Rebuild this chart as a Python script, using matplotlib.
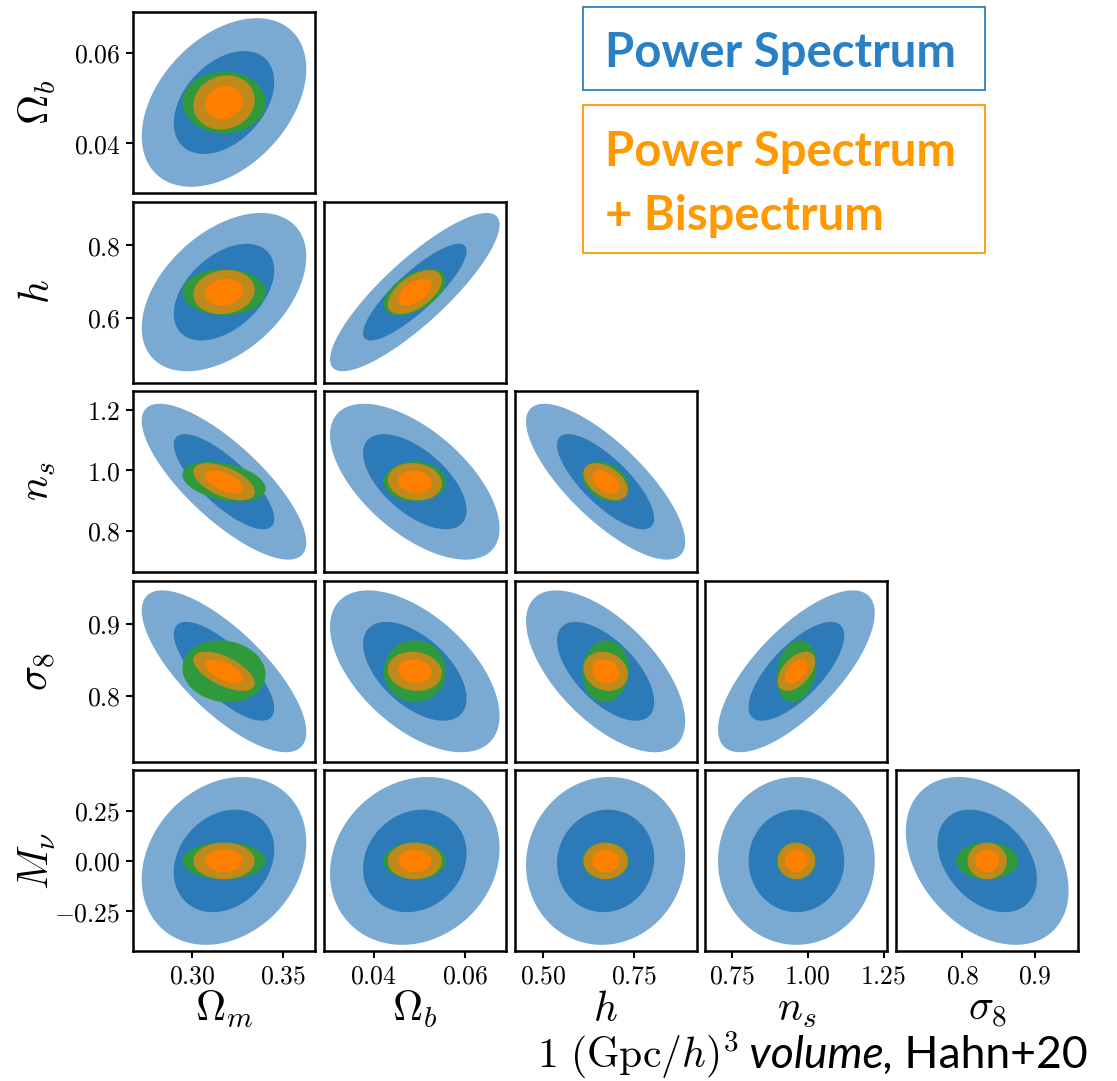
import numpy as np
import matplotlib.pyplot as plt
from matplotlib.patches import Rectangle

plt.rcParams['mathtext.fontset'] = 'cm'

# parameters of the Fisher forecast
names = [r'\Omega_m', r'\Omega_b', 'h', 'n_s', r'\sigma_8', r'M_\nu']
fiducial = [0.3175, 0.049, 0.6711, 0.9624, 0.834, 0.0]
half_range = [0.05, 0.02, 0.25, 0.30, 0.125, 0.45]

xtick_vals = [[0.30, 0.35], [0.04, 0.06], [0.50, 0.75], [0.75, 1.00, 1.25], [0.8, 0.9]]
xtick_labels = [['0.30', '0.35'], ['0.04', '0.06'], ['0.50', '0.75'],
                ['0.75', '1.00', '1.25'], ['0.8', '0.9']]
ytick_vals = [[0.04, 0.06], [0.6, 0.8], [0.8, 1.0, 1.2], [0.8, 0.9], [-0.25, 0.0, 0.25]]
ytick_labels = [['0.04', '0.06'], ['0.6', '0.8'], ['0.8', '1.0', '1.2'],
                ['0.8', '0.9'], ['-0.25', '0.00', '0.25']]

# marginal 1-sigma errors
sig_ps = [0.0182, 0.0075, 0.088, 0.104, 0.045, 0.168]
sig_green = [0.0092, 0.00275, 0.0258, 0.0265, 0.0172, 0.037]
sig_pb = [0.0068, 0.0024, 0.0245, 0.0248, 0.0109, 0.0365]

# correlation coefficients, row = y parameter (Omega_b ... M_nu), col = x parameter
rho_ps = [[0.40],
          [0.45, 0.85],
          [-0.78, -0.60, -0.77],
          [-0.75, -0.55, -0.62, 0.72],
          [0.22, 0.15, 0.05, 0.0, -0.35]]
rho_green = [[0.0],
             [0.0, 0.50],
             [-0.35, 0.0, -0.30],
             [-0.10, 0.0, 0.05, 0.20],
             [0.0, 0.0, 0.0, 0.0, 0.0]]
rho_pb = [[0.10],
          [0.10, 0.55],
          [-0.55, -0.10, -0.45],
          [-0.60, -0.10, -0.15, 0.50],
          [0.0, 0.0, 0.0, 0.0, 0.0]]

k1 = np.sqrt(2.30)
k2 = np.sqrt(6.17)
layers = [(sig_ps, rho_ps, k2, '#7aaad2'),
          (sig_ps, rho_ps, k1, '#2c7bb8'),
          (sig_green, rho_green, k2, '#2f9a3b'),
          (sig_pb, rho_pb, k2, '#c0891c'),
          (sig_pb, rho_pb, k1, '#ff7f00')]


def ellipse(x0, y0, sx, sy, rho, k, n=300):
    t = np.linspace(0, 2 * np.pi, n)
    dx = k * sx * np.cos(t)
    dy = k * sy * (rho * np.cos(t) + np.sqrt(1 - rho**2) * np.sin(t))
    return x0 + dx, y0 + dy


W, H = 1117, 1081
fig = plt.figure(figsize=(W / 100, H / 100), dpi=100)

for r in range(5):
    for c in range(r + 1):
        left = 133 + c * 190.8
        top = 12 + r * 189.6
        ax = fig.add_axes([left / W, 1 - (top + 181) / H, 182 / W, 181 / H])
        iy = r + 1
        for sig, rho, k, col in layers:
            xs, ys = ellipse(fiducial[c], fiducial[iy], sig[c], sig[iy], rho[r][c], k)
            ax.fill(xs, ys, color=col, lw=0)
        ax.set_xlim(fiducial[c] - half_range[c], fiducial[c] + half_range[c])
        ax.set_ylim(fiducial[iy] - half_range[iy], fiducial[iy] + half_range[iy])
        for s in ax.spines.values():
            s.set_linewidth(1.8)
        ax.tick_params(length=5, width=1.5, labelsize=18.5, pad=4)
        if r == 4:
            ax.set_xticks(xtick_vals[c], ['$%s$' % s for s in xtick_labels[c]])
            ax.set_xlabel('$%s$' % names[c], fontsize=30)
            ax.xaxis.set_label_coords(0.5, -0.2)
        else:
            ax.set_xticks([])
        if c == 0:
            ax.set_yticks(ytick_vals[r], ['$%s$' % s for s in ytick_labels[r]])
            ax.set_ylabel('$%s$' % names[iy], fontsize=30)
            ax.yaxis.set_label_coords(-0.41, 0.5)
        else:
            ax.set_yticks([])

# legend boxes
blue_txt = '#2a80c4'
orange_txt = '#ff9900'
fig.patches.append(Rectangle((583 / W, 1 - 90 / H), 402 / W, 83 / H, transform=fig.transFigure,
                             fill=False, ec=blue_txt, lw=1.3))
fig.patches.append(Rectangle((583 / W, 1 - 253 / H), 402 / W, 148 / H, transform=fig.transFigure,
                             fill=False, ec=orange_txt, lw=1.3))
box_font = dict(family='Lato', weight='bold', fontsize=34)
fig.text(605 / W, 1 - 67 / H, 'Power Spectrum', color=blue_txt, va='baseline', **box_font)
fig.text(605 / W, 1 - 166 / H, 'Power Spectrum', color=orange_txt, va='baseline', **box_font)
fig.text(605 / W, 1 - 230 / H, '+ Bispectrum', color=orange_txt, va='baseline', **box_font)

# credit line at the bottom
fig.canvas.draw()
rend = fig.canvas.get_renderer()
x = 537 / W
yb = 1 - 1068 / H
parts = [(r'$1\ (\mathrm{Gpc}/h)^3$', dict(fontsize=30)),
         (' volume,', dict(family='Lato', style='italic', fontsize=32)),
         (' Hahn+20', dict(family='Lato', fontsize=32))]
for txt, kw in parts:
    t = fig.text(x, yb, txt, va='baseline', ha='left', **kw)
    bb = t.get_window_extent(rend)
    x = bb.x1 / W

fig.savefig('out.png', dpi=100)
